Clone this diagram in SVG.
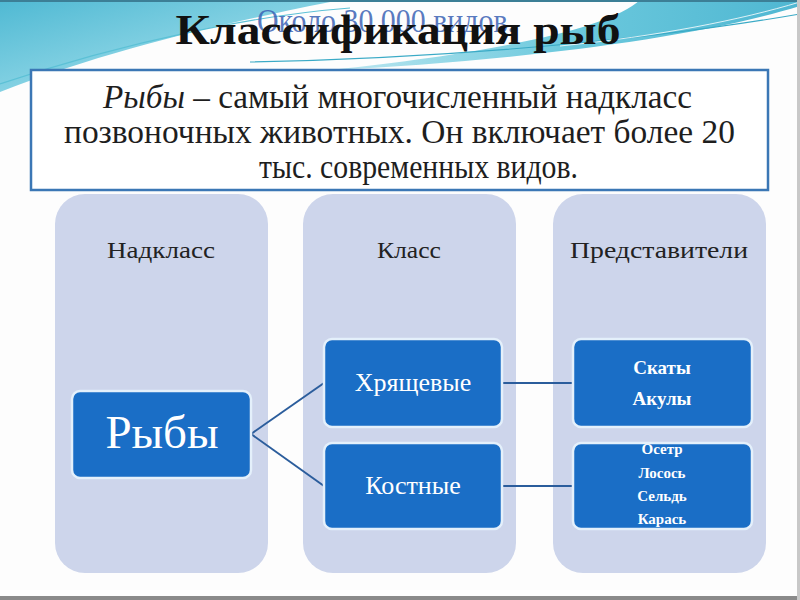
<svg xmlns="http://www.w3.org/2000/svg" width="800" height="600" viewBox="0 0 800 600">
<defs>
<linearGradient id="tealL" x1="0" y1="0" x2="1" y2="1">
<stop offset="0" stop-color="#4fb9d3"/>
<stop offset="0.6" stop-color="#8ed6e6"/>
<stop offset="1" stop-color="#d8f2f7"/>
</linearGradient>
<linearGradient id="tealR" x1="0" y1="0" x2="1" y2="0">
<stop offset="0" stop-color="#bfe8f1"/>
<stop offset="0.5" stop-color="#6cc9dd"/>
<stop offset="1" stop-color="#4fb7d2"/>
</linearGradient>
<style>
.col{fill:#cdd5eb}
.node{fill:#1a6ec6;stroke:#e4f0fb;stroke-width:2.5}
.lbl{font-family:"Liberation Serif","DejaVu Serif",serif;fill:#222;font-size:24px;text-anchor:middle}
.wt{font-family:"Liberation Serif","DejaVu Serif",serif;fill:#ffffff;text-anchor:middle}
.hd{font-family:"Liberation Serif","DejaVu Serif",serif;fill:#1e1e1e;font-size:33px}
.conn{stroke:#2b5d9c;stroke-width:2;fill:none}
</style>
</defs>
<rect x="0" y="0" width="800" height="600" fill="#fdfdfd"/>
<g id="background">
<path d="M0,0 H340 C250,18 120,45 0,92 Z" fill="url(#tealL)"/>
<path d="M330,70 C500,62 690,40 800,6 V0 H640 C610,28 500,52 330,70 Z" fill="url(#tealR)"/>
<path d="M0,84 C130,40 260,15 350,8" stroke="#5cc1d6" stroke-width="1.2" fill="none"/>
<path d="M250,62 C450,58 650,40 800,14" stroke="#3aaac6" stroke-width="1.2" fill="none"/>
<path d="M560,46 C660,36 740,20 800,2" stroke="#ffffff" stroke-width="1" fill="none" opacity="0.8"/>
<rect x="0" y="0" width="800" height="2" fill="#3c7f96"/>
<rect x="0" y="596" width="800" height="4" fill="#8a8a8a"/>
<rect x="797" y="0" width="3" height="600" fill="#c8c8c8"/>
</g>
<g id="title">
<text x="386" y="32" font-family="Liberation Serif, DejaVu Serif, serif" font-size="33" fill="#3b62b4" fill-opacity="0.85" text-anchor="middle" textLength="258" lengthAdjust="spacingAndGlyphs">Около 30 000 видов.</text>
<text x="398" y="44" font-family="Liberation Serif, DejaVu Serif, serif" font-size="43" font-weight="bold" fill="#111" text-anchor="middle" textLength="445" lengthAdjust="spacingAndGlyphs">Классификация рыб</text>
</g>
<g id="header-box">
<rect x="31" y="70" width="737" height="120" fill="#ffffff" stroke="#3b77b5" stroke-width="2.5"/>
<text class="hd" x="103" y="108" textLength="589" lengthAdjust="spacingAndGlyphs"><tspan font-style="italic">Рыбы</tspan> – самый многочисленный надкласс</text>
<text class="hd" x="64" y="143" textLength="671" lengthAdjust="spacingAndGlyphs">позвоночных животных. Он включает более 20</text>
<text class="hd" x="259" y="178" textLength="319" lengthAdjust="spacingAndGlyphs">тыс. современных видов.</text>
</g>
<g id="col-nadklass">
<rect class="col" x="55" y="194" width="213" height="379" rx="30"/>
<text class="lbl" x="161" y="258" textLength="108" lengthAdjust="spacingAndGlyphs">Надкласс</text>
</g>
<g id="col-klass">
<rect class="col" x="303" y="194" width="213" height="379" rx="30"/>
<text class="lbl" x="409" y="258" textLength="64" lengthAdjust="spacingAndGlyphs">Класс</text>
</g>
<g id="col-predst">
<rect class="col" x="553" y="194" width="213" height="379" rx="30"/>
<text class="lbl" x="659" y="258" textLength="178" lengthAdjust="spacingAndGlyphs">Представители</text>
</g>
<g id="connectors">
<line class="conn" x1="251" y1="434" x2="324" y2="383"/>
<line class="conn" x1="251" y1="434" x2="324" y2="486"/>
<line class="conn" x1="502" y1="383" x2="573" y2="383"/>
<line class="conn" x1="502" y1="486" x2="573" y2="486"/>
</g>
<g id="node-ryby">
<rect class="node" x="72" y="391" width="179" height="87" rx="8"/>
<text class="wt" x="162" y="448" font-size="47">Рыбы</text>
</g>
<g id="node-hryashchevye">
<rect class="node" x="324" y="339" width="178" height="88" rx="8"/>
<text class="wt" x="413" y="391" font-size="26">Хрящевые</text>
</g>
<g id="node-kostnye">
<rect class="node" x="324" y="443" width="178" height="86" rx="8"/>
<text class="wt" x="413" y="494" font-size="26">Костные</text>
</g>
<g id="node-rep1">
<rect class="node" x="573" y="339" width="179" height="88" rx="8"/>
<text class="wt" x="662" y="374" font-size="19" font-weight="bold">Скаты</text>
<text class="wt" x="662" y="405" font-size="19" font-weight="bold">Акулы</text>
</g>
<g id="node-rep2">
<rect class="node" x="573" y="443" width="179" height="86" rx="8"/>
<text class="wt" x="662" y="454" font-size="15" font-weight="bold">Осетр</text>
<text class="wt" x="662" y="478" font-size="15" font-weight="bold">Лосось</text>
<text class="wt" x="662" y="501" font-size="15" font-weight="bold">Сельдь</text>
<text class="wt" x="662" y="524" font-size="15" font-weight="bold">Карась</text>
</g>
</svg>
